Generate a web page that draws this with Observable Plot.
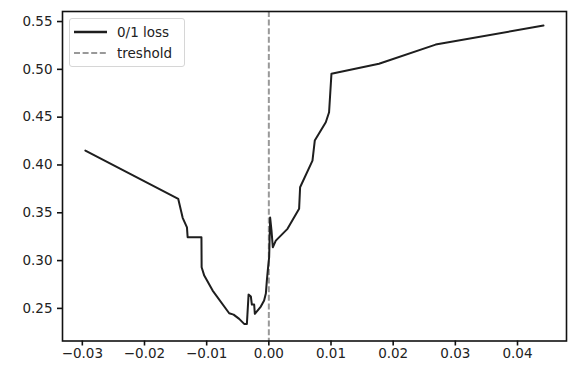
<!DOCTYPE html>
<html>
<head>
<meta charset="utf-8">
<script src="https://cdn.jsdelivr.net/npm/d3@7"></script>
<script src="https://cdn.jsdelivr.net/npm/@observablehq/plot@0.6"></script>
<style>
  html, body { margin: 0; padding: 0; background: white; }
  #wrap { position: relative; width: 568px; height: 365px; }
  #legend {
    position: absolute; left: 69px; top: 18px; width: 116px; height: 49px;
    border: 1px solid #d6d6d6; border-radius: 3px; background: rgba(255,255,255,0.8);
    font-family: "DejaVu Sans", sans-serif; font-size: 13.5px; color: #222; box-sizing: border-box;
  }
  .entry { position: absolute; left: 0; height: 16px; display: flex; align-items: center; }
  .entry svg { margin-left: 4px; margin-right: 10px; }
</style>
</head>
<body>
<div id="wrap"></div>
<script>
// Data
const xs = [-0.02951, -0.01457, -0.01386, -0.01317, -0.01306, -0.01084, -0.01081, -0.01039, -0.00904,
  -0.00638, -0.00567, -0.00477, -0.00397, -0.00353, -0.00326, -0.00289, -0.00273, -0.00236, -0.00225,
  -0.00129, -0.00076, -0.00048, -0.00032, -0.00011, 0.00005, 0.00021, 0.00043, 0.00064, 0.00112,
  0.00300, 0.00487, 0.00503, 0.00702, 0.00739, 0.00916, 0.00969, 0.01007, 0.01772, 0.02683, 0.04418];
const ys = [0.4151, 0.3645, 0.3447, 0.3348, 0.3244, 0.3244, 0.2930, 0.2843, 0.2686,
  0.2449, 0.2435, 0.2390, 0.2338, 0.2338, 0.2644, 0.2624, 0.2540, 0.2540, 0.2443,
  0.2519, 0.2582, 0.2655, 0.2791, 0.2937, 0.3035, 0.3450, 0.3314, 0.3139, 0.3209,
  0.3332, 0.3541, 0.3767, 0.4046, 0.4255, 0.4447, 0.4551, 0.4953, 0.5058, 0.5259, 0.5458];
const thresholds = [0];
const xTicks = [-0.03, -0.02, -0.01, 0.00, 0.01, 0.02, 0.03, 0.04];
const yTicks = [0.25, 0.30, 0.35, 0.40, 0.45, 0.50, 0.55];
const seriesLabels = ["0/1 loss", "treshold"];

const data = xs.map((x, i) => ({x, y: ys[i]}));
const fmt = d3.format(".2f");

const chart = Plot.plot({
  width: 568,
  height: 365,
  marginLeft: 62,
  marginRight: 2,
  marginTop: 11,
  marginBottom: 24.5,
  style: {fontFamily: "DejaVu Sans, sans-serif", fontSize: "13.5px", color: "#222", background: "white", overflow: "visible"},
  x: {domain: [-0.03319, 0.04788]},
  y: {domain: [0.2159, 0.5605]},
  marks: [
    Plot.ruleX(thresholds, {stroke: "#999", strokeWidth: 2, strokeDasharray: "6,2.6"}),
    Plot.line(data, {x: "x", y: "y", stroke: "#1e1e1e", strokeWidth: 2}),
    Plot.frame({stroke: "#111", strokeWidth: 1.6}),
    Plot.axisX({ticks: xTicks, tickFormat: fmt, tickSize: 5, tickPadding: 2, label: null, fontSize: 13.5, stroke: "#111", strokeWidth: 1.6}),
    Plot.axisY({ticks: yTicks, tickFormat: fmt, tickSize: 5, tickPadding: 5, label: null, fontSize: 13.5, stroke: "#111", strokeWidth: 1.6})
  ]
});
const wrap = document.getElementById("wrap");
wrap.appendChild(chart);

// Legend
const legend = document.createElement("div");
legend.id = "legend";
const styles = [{stroke: "#1e1e1e", dash: null, w: 2.6}, {stroke: "#999", dash: "6,2.6", w: 2.2}];
seriesLabels.forEach((label, i) => {
  const e = document.createElement("div");
  e.className = "entry";
  e.style.top = (4.5 + i * 21.5) + "px";
  e.innerHTML = `<svg width="33" height="6"><line x1="0" x2="33" y1="3" y2="3" stroke="${styles[i].stroke}" stroke-width="${styles[i].w}" ${styles[i].dash ? `stroke-dasharray="${styles[i].dash}"` : ""}/></svg><span>${label}</span>`;
  legend.appendChild(e);
});
wrap.appendChild(legend);
</script>
</body>
</html>
